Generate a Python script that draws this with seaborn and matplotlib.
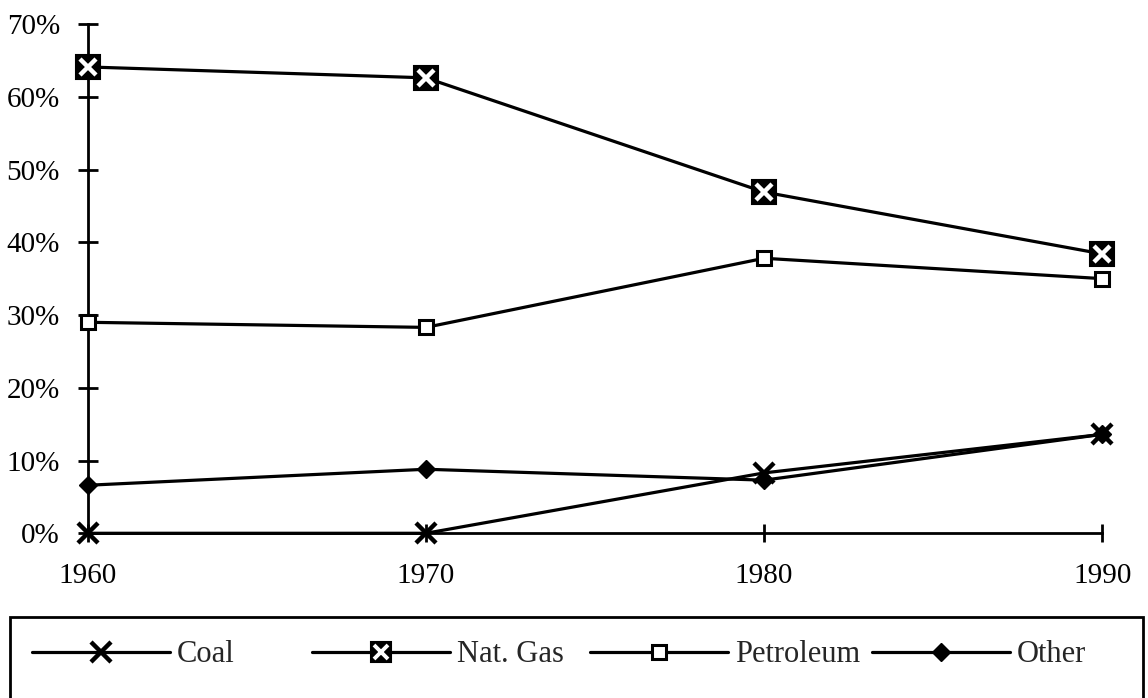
import matplotlib
matplotlib.use("Agg")
import matplotlib.pyplot as plt
from matplotlib.lines import Line2D
from matplotlib.patches import Rectangle
import seaborn as sns
import pandas as pd

# values (share of total, %)
years = [1960, 1970, 1980, 1990]
coal = [0.0, 0.0, 8.3, 13.6]
nat_gas = [64.1, 62.6, 46.9, 38.4]
petroleum = [29.0, 28.3, 37.8, 35.0]
other = [6.6, 8.8, 7.3, 13.6]
y_ticks = [0, 10, 20, 30, 40, 50, 60, 70]
y_tick_labels = [f"{v}%" for v in y_ticks]

df = pd.DataFrame({"year": years, "Coal": coal, "Nat. Gas": nat_gas,
                   "Petroleum": petroleum, "Other": other})

sns.set_style("ticks")
plt.rcParams["font.family"] = ["Liberation Serif", "DejaVu Serif"]

fig = plt.figure(figsize=(11.48, 6.98), dpi=100)
ax = fig.add_axes([0.0764, 0.2360, 0.8838, 0.7296])

lw = 2.3
common = dict(color="black", linewidth=lw, clip_on=False, ax=ax, legend=False)

sns.lineplot(data=df, x="year", y="Petroleum", marker="s", markersize=10,
             markerfacecolor="white", markeredgecolor="black",
             markeredgewidth=2.2, zorder=3, **common)
sns.lineplot(data=df, x="year", y="Nat. Gas", marker="s", markersize=17,
             markerfacecolor="black", markeredgecolor="black",
             markeredgewidth=1.5, zorder=3, **common)
ax.plot(df["year"], df["Nat. Gas"], linestyle="none", marker="x",
        markersize=11, markeredgecolor="white", markeredgewidth=3.2,
        clip_on=False, zorder=4)
sns.lineplot(data=df, x="year", y="Other", marker="D", markersize=9,
             markerfacecolor="black", markeredgecolor="black",
             markeredgewidth=1, zorder=3, **common)
sns.lineplot(data=df, x="year", y="Coal", marker="x", markersize=14,
             markeredgecolor="black", markeredgewidth=3.2, zorder=5, **common)

ax.set_xlim(1960, 1990)
ax.set_ylim(0, 70)
ax.set_xticks(years)
ax.set_xticklabels([str(y) for y in years])
ax.set_yticks(y_ticks)
ax.set_yticklabels(y_tick_labels)
ax.set_xlabel("")
ax.set_ylabel("")

sns.despine(ax=ax)
for side in ["left", "bottom"]:
    ax.spines[side].set_linewidth(2.0)
    ax.spines[side].set_color("black")

ax.tick_params(axis="y", direction="inout", length=14, width=2.0,
               pad=13, labelsize=21, colors="black")
ax.tick_params(axis="x", direction="inout", length=13, width=2.0,
               pad=15, labelsize=21, colors="black")

# legend box across the bottom
fig.patches.append(Rectangle((10 / 1148, -0.05), 1133 / 1148,
                             (698 - 617) / 698 + 0.05,
                             transform=fig.transFigure, fill=False,
                             edgecolor="black", linewidth=2.0))

handles = [
    Line2D([], [], color="black", lw=lw, marker="x", markersize=14,
           markeredgewidth=3.2),
    (Line2D([], [], color="black", lw=lw, marker="s", markersize=15,
            markerfacecolor="black", markeredgewidth=1.5),
     Line2D([], [], linestyle="none", marker="x", markersize=10,
            markeredgecolor="white", markeredgewidth=2.8)),
    Line2D([], [], color="black", lw=lw, marker="s", markersize=10,
           markerfacecolor="white", markeredgecolor="black",
           markeredgewidth=2.2),
    Line2D([], [], color="black", lw=lw, marker="D", markersize=9,
           markerfacecolor="black"),
]
labels = ["Coal", "Nat. Gas", "Petroleum", "Other"]
starts = [32, 312, 590, 872]
for h, lab, x0 in zip(handles, labels, starts):
    leg = fig.legend([h], [lab], loc="center left",
                     bbox_to_anchor=(x0 / 1148, 1 - 655 / 698),
                     frameon=False, fontsize=22, handlelength=4.5,
                     handletextpad=0.25, borderpad=0, borderaxespad=0,
                     numpoints=1)

fig.savefig("out.png", dpi=100)
